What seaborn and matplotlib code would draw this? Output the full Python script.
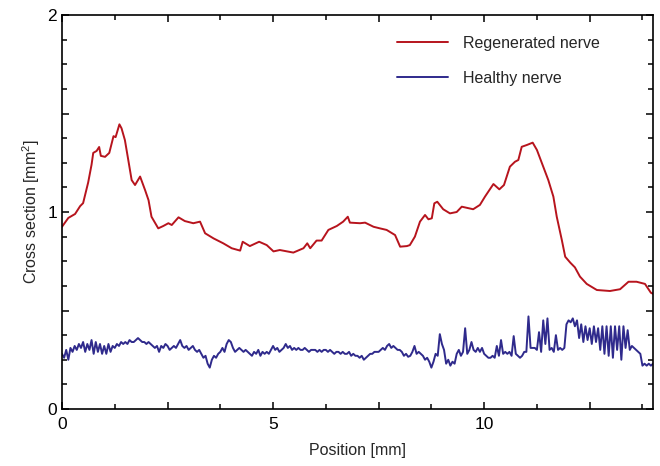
import numpy as np
import pandas as pd
import matplotlib
matplotlib.use("Agg")
import matplotlib.pyplot as plt
from matplotlib.ticker import MultipleLocator, FuncFormatter
import seaborn as sns

# ---- data ----
red_x = [0.00, 0.15, 0.31, 0.43, 0.50, 0.62, 0.70, 0.74, 0.82, 0.88, 0.92, 1.02, 1.12, 1.22, 1.27,
         1.36, 1.41, 1.49, 1.57, 1.65, 1.73, 1.85, 1.97, 2.05, 2.12, 2.28, 2.40, 2.52, 2.60, 2.76,
         2.91, 3.11, 3.27, 3.39, 3.59, 3.82, 4.02, 4.22, 4.28, 4.45, 4.67, 4.85, 5.01, 5.16, 5.48,
         5.72, 5.81, 5.88, 6.03, 6.15, 6.31, 6.51, 6.66, 6.77, 6.82, 7.06, 7.18, 7.38, 7.53, 7.69,
         7.89, 8.01, 8.17, 8.24, 8.36, 8.48, 8.60, 8.68, 8.76, 8.82, 8.89, 9.03, 9.19, 9.35, 9.47,
         9.74, 9.90, 10.02, 10.22, 10.36, 10.47, 10.61, 10.73, 10.81, 10.89, 11.01, 11.15, 11.25,
         11.40, 11.52, 11.64, 11.72, 11.84, 11.92, 12.04, 12.15, 12.27, 12.43, 12.67, 12.98, 13.22,
         13.42, 13.61, 13.81, 13.95, 14.00]
red_y = [0.925, 0.97, 0.99, 1.03, 1.045, 1.15, 1.24, 1.30, 1.31, 1.33, 1.285, 1.28, 1.30, 1.385, 1.38,
         1.445, 1.425, 1.365, 1.264, 1.162, 1.137, 1.18, 1.11, 1.06, 0.976, 0.917, 0.929, 0.943, 0.934, 0.973,
         0.954, 0.943, 0.951, 0.892, 0.866, 0.841, 0.816, 0.804, 0.849, 0.827, 0.849, 0.832, 0.80, 0.807, 0.794,
         0.816, 0.841, 0.816, 0.855, 0.855, 0.909, 0.929, 0.951, 0.976, 0.946, 0.943, 0.946, 0.925, 0.917, 0.909,
         0.883, 0.824, 0.827, 0.832, 0.875, 0.951, 0.985, 0.963, 0.968, 1.044, 1.052, 1.014, 0.993, 1.00, 1.027,
         1.014, 1.036, 1.078, 1.142, 1.115, 1.137, 1.23, 1.255, 1.264, 1.331, 1.34, 1.352, 1.315,
         1.23, 1.162, 1.078, 0.976, 0.858, 0.773, 0.743, 0.719, 0.672, 0.635, 0.604, 0.599, 0.608,
         0.646, 0.646, 0.635, 0.59, 0.585]

# healthy nerve sampled every 0.05 mm from 0 to 14 mm
blue_y = [
    0.28, 0.26, 0.30, 0.25, 0.31, 0.29, 0.32, 0.30, 0.33, 0.31, 0.34, 0.29, 0.33, 0.30, 0.35, 0.28, 0.34, 0.29, 0.33, 0.28,
    0.32, 0.28, 0.33, 0.29, 0.32, 0.31, 0.33, 0.32, 0.34, 0.33, 0.34, 0.33, 0.35, 0.34, 0.34, 0.35, 0.36, 0.35, 0.34, 0.34,
    0.33, 0.34, 0.33, 0.32, 0.31, 0.32, 0.29, 0.32, 0.31, 0.33, 0.32, 0.30, 0.31, 0.32, 0.31, 0.33, 0.35, 0.32, 0.31, 0.32,
    0.30, 0.31, 0.32, 0.30, 0.29, 0.30, 0.28, 0.26, 0.27, 0.23, 0.21, 0.25, 0.27, 0.26, 0.28, 0.29, 0.31, 0.29, 0.33, 0.35,
    0.34, 0.31, 0.29, 0.30, 0.31, 0.30, 0.29, 0.30, 0.29, 0.28, 0.27, 0.29, 0.28, 0.30, 0.27, 0.29, 0.28, 0.29, 0.28, 0.30,
    0.32, 0.30, 0.31, 0.29, 0.30, 0.31, 0.33, 0.31, 0.32, 0.30, 0.31, 0.30, 0.31, 0.30, 0.30, 0.31, 0.30, 0.29, 0.30, 0.30,
    0.30, 0.29, 0.30, 0.29, 0.30, 0.30, 0.29, 0.30, 0.29, 0.28, 0.29, 0.29, 0.28, 0.29, 0.28, 0.28, 0.29, 0.27, 0.28, 0.27,
    0.27, 0.26, 0.27, 0.25, 0.26, 0.27, 0.28, 0.28, 0.29, 0.29, 0.29, 0.30, 0.31, 0.30, 0.32, 0.33, 0.31, 0.32, 0.31, 0.30,
    0.30, 0.29, 0.27, 0.28, 0.265, 0.27, 0.29, 0.32, 0.28, 0.29, 0.28, 0.27, 0.25, 0.26, 0.24, 0.21, 0.24, 0.28, 0.27, 0.38,
    0.33, 0.30, 0.23, 0.25, 0.22, 0.24, 0.23, 0.28, 0.30, 0.27, 0.29, 0.41, 0.28, 0.30, 0.34, 0.30, 0.29, 0.31, 0.29, 0.31,
    0.28, 0.27, 0.26, 0.26, 0.27, 0.26, 0.32, 0.27, 0.35, 0.28, 0.29, 0.28, 0.29, 0.27, 0.37, 0.28, 0.27, 0.26, 0.27, 0.29,
    0.29, 0.47, 0.31, 0.31, 0.31, 0.30, 0.39, 0.29, 0.45, 0.33, 0.46, 0.30, 0.31, 0.29, 0.375, 0.30, 0.31, 0.30, 0.31, 0.43,
    0.45, 0.44, 0.46, 0.42, 0.45, 0.36, 0.43, 0.34, 0.42, 0.35, 0.41, 0.33, 0.42, 0.34, 0.41, 0.30, 0.42, 0.28, 0.42, 0.27,
    0.42, 0.26, 0.42, 0.30, 0.42, 0.25, 0.42, 0.31, 0.40, 0.30, 0.32, 0.31, 0.30, 0.29, 0.28, 0.22, 0.23, 0.22, 0.23, 0.22,
    0.23]
blue_x = np.linspace(0, 14, len(blue_y))

series_names = ["Regenerated nerve", "Healthy nerve"]
colors = ["#b7141d", "#2f2a8c"]

df = pd.concat([
    pd.DataFrame({"Position": red_x, "Cross": red_y, "Series": series_names[0]}),
    pd.DataFrame({"Position": blue_x, "Cross": blue_y, "Series": series_names[1]}),
], ignore_index=True)

sns.set_theme(style="ticks")
plt.rcParams["font.family"] = ["Liberation Sans", "DejaVu Sans"]
plt.rcParams["mathtext.fontset"] = "custom"
plt.rcParams["mathtext.rm"] = "Liberation Sans"

fig = plt.figure(figsize=(6.6, 4.66), dpi=100)
ax = fig.add_axes([62 / 660, 1 - 409 / 466, 591 / 660, 394 / 466])

sns.lineplot(data=df, x="Position", y="Cross", hue="Series", hue_order=series_names,
             palette=colors, estimator=None, sort=False, linewidth=1.4, ax=ax)

ax.set_xlim(0, 14)
ax.set_ylim(0, 2)
ax.xaxis.set_major_locator(MultipleLocator(2.5))
ax.xaxis.set_minor_locator(MultipleLocator(1.25))
ax.yaxis.set_major_locator(MultipleLocator(0.5))
ax.yaxis.set_minor_locator(MultipleLocator(0.125))
ax.xaxis.set_major_formatter(FuncFormatter(lambda v, p: f"{v:.0f}" if abs(v % 5) < 1e-9 else ""))
ax.yaxis.set_major_formatter(FuncFormatter(lambda v, p: f"{v:.0f}" if abs(v % 1) < 1e-9 else ""))
ax.tick_params(which="both", direction="in", top=True, right=True, width=1.1, colors="black",
               labelsize=12.5)
ax.tick_params(which="major", length=5)
ax.tick_params(which="minor", length=3.5)
ax.tick_params(axis="x", which="major", pad=6)
for s in ax.spines.values():
    s.set_linewidth(1.2)
    s.set_color("black")

ax.set_xlabel("Position [mm]", fontsize=11.5, labelpad=8)
ax.set_ylabel("Cross section [mm$^2$]", fontsize=11.5, labelpad=4)

ax.legend(loc="upper left", bbox_to_anchor=((397 - 62) / 591, (409 - 36) / 394), frameon=False,
          fontsize=11.5, handlelength=3.2, handletextpad=0.95, labelspacing=1.25, borderpad=0,
          borderaxespad=0, title=None)

fig.savefig("out.png", dpi=100)
